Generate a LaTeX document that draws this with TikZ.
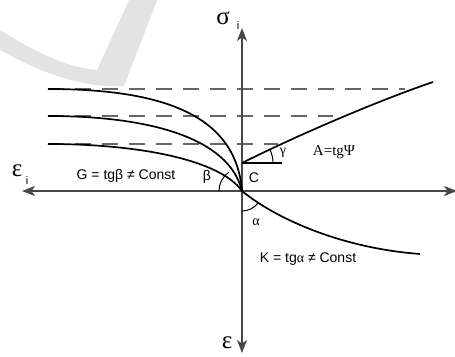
\documentclass[tikz,border=0pt]{standalone}
\usepackage{fontspec}
\setmainfont{Liberation Sans}
\newfontfamily\serifgr{Liberation Serif}
\usetikzlibrary{arrows.meta}
\begin{document}
\begin{tikzpicture}[x=1pt,y=-1pt,
  axisline/.style={draw=black!72,line width=1.4pt},
  axarrow/.style={axisline,-{Stealth[length=13pt,width=10pt,inset=3.5pt]}},
  curve/.style={draw=black,line width=1.7pt},
  dashline/.style={draw=black!60,line width=1.3pt,dash pattern=on 16pt off 11pt},
  anglearc/.style={draw=black,line width=1pt},
  lbl/.style={inner sep=0pt,font=\fontsize{14}{16}\selectfont},
  serlbl/.style={inner sep=0pt,font=\serifgr\fontsize{15}{17}\selectfont},
  axlbl/.style={inner sep=0pt,font=\serifgr\fontsize{25}{27}\selectfont},
  sublbl/.style={inner sep=0pt,font=\fontsize{11}{12}\selectfont}]
\useasboundingbox (0,0) rectangle (455,356);
\clip (0,0) rectangle (455,356);
% watermark
\fill[black!11] (0,30) .. controls (40,55) and (70,68) .. (97,70) -- (130,-2) -- (158,-2)
  -- (124,86) .. controls (80,88) and (40,72) .. (0,50) -- cycle;
% coordinates
\coordinate (O) at (242,191);
\coordinate (C) at (242,163);
\coordinate (L) at (22,191);
\coordinate (R) at (457,191);
\coordinate (T) at (242,28);
\coordinate (B) at (242,353);
\coordinate (d1s) at (48,89);
\coordinate (d2s) at (48,116);
\coordinate (d3s) at (48,144);
\coordinate (d1e) at (405,89);
\coordinate (d2e) at (333,116);
\coordinate (d3e) at (278,144);
\coordinate (Aend) at (433,82);
\coordinate (Kend) at (420,254);
\coordinate (Cr) at (282,163);
% dashed levels
\draw[dashline] (d1s) -- (d1e);
\draw[dashline] (d2s) -- (d2e);
\draw[dashline] (d3s) -- (d3e);
% axes
\draw[axarrow] (O) -- (L);
\draw[axarrow] (O) -- (R);
\draw[axarrow] (O) -- (T);
\draw[axarrow] (O) -- (B);
% curves
\draw[curve] (d1s) .. controls (165,89) and (236,116) .. (O);
\draw[curve] (d2s) .. controls (150,116) and (229,138) .. (O);
\draw[curve] (d3s) .. controls (140,144) and (220,160) .. (O);
\draw[curve] (O) .. controls (275,218) and (340,248) .. (Kend);
\draw[curve] (C) .. controls (300,134) and (380,100) .. (Aend);
\draw[line width=1.2pt] (C) -- (Cr);
% angle arcs (y axis flipped: angles mirrored)
\draw[anglearc] (219,191) arc[start angle=180,end angle=235,radius=23];
\draw[anglearc] (242,211) arc[start angle=90,end angle=38,radius=20];
\draw[anglearc] (273,163) arc[start angle=0,end angle=-27,radius=31];
% labels
\node[axlbl] (sig) at (223,18) {σ};
\node[sublbl] (sigi) at (238,26) {i};
\node[axlbl] (epsi) at (17,171) {ε};
\node[sublbl] (epsii) at (27,181) {i};
\node[axlbl] (eps) at (227,343) {ε};
\node[axlbl] (sigr) at (461,174) {σ};
\node[lbl] (G) at (126,176) {G = tgβ ≠ Const};
\node[lbl] (beta) at (207,177) {β};
\node[lbl] (Clbl) at (254,178) {C};
\node[lbl] (alpha) at (256,222) {\serifgr α};
\node[lbl] (K) at (308,259) {K = tg{\serifgr α} ≠ Const};
\node[serlbl] (A) at (334,152) {A=tgΨ};
\node[lbl] (gam) at (283,153) {\serifgr γ};
\end{tikzpicture}
\end{document}
